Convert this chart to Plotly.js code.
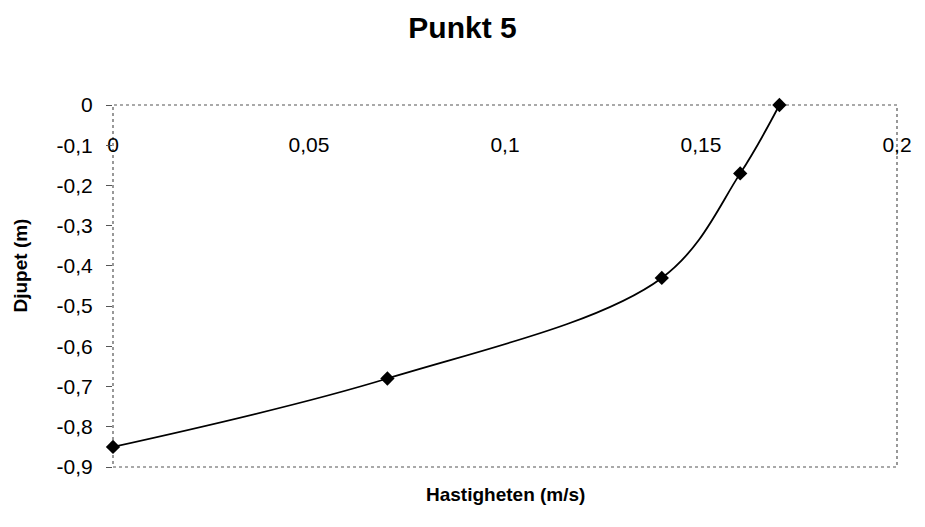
<!DOCTYPE html>
<html>
<head>
<meta charset="utf-8">
<script src="https://cdn.plot.ly/plotly-3.0.1.min.js"></script>
<style>
  html, body { margin: 0; padding: 0; background: #fff; }
  #chart { width: 925px; height: 527px; }
</style>
</head>
<body>
<div id="chart"></div>
<script>
// Velocity profile, measuring point 5
const velocity = [0.17, 0.16, 0.14, 0.07, 0];      // m/s
const depth = [0, -0.17, -0.43, -0.68, -0.85];     // m

const xTickVals = [0, 0.05, 0.1, 0.15, 0.2];
const xTickText = ['0', '0,05', '0,1', '0,15', '0,2'];
const yTickVals = [0, -0.1, -0.2, -0.3, -0.4, -0.5, -0.6, -0.7, -0.8, -0.9];
const yTickText = ['0', '-0,1', '-0,2', '-0,3', '-0,4', '-0,5', '-0,6', '-0,7', '-0,8', '-0,9'];

const chartTitle = 'Punkt 5';
const xTitle = 'Hastigheten (m/s)';
const yTitle = 'Djupet (m)';

const FONT = 'Liberation Sans, Arial, sans-serif';

const trace = {
  x: velocity,
  y: depth,
  type: 'scatter',
  mode: 'lines+markers',
  cliponaxis: false,
  line: { shape: 'spline', smoothing: 1, color: '#000', width: 1.8 },
  marker: { symbol: 'diamond', size: 11, color: '#000' },
  hoverinfo: 'x+y'
};

const layout = {
  width: 925,
  height: 527,
  margin: { l: 113, r: 28, t: 105, b: 60 },
  paper_bgcolor: '#fff',
  plot_bgcolor: '#fff',
  showlegend: false,
  font: { family: FONT, color: '#000', size: 21 },
  title: {
    text: '<b>' + chartTitle + '</b>',
    font: { family: FONT, size: 30, color: '#000' },
    x: 0.5, xref: 'container', xanchor: 'center',
    y: 1 - 27 / 527, yref: 'container', yanchor: 'middle'
  },
  xaxis: {
    range: [0, 0.2],
    tickvals: xTickVals,
    ticktext: xTickText,
    anchor: 'free',
    position: 0.93,
    side: 'bottom',
    ticks: '',
    showline: false,
    showgrid: false,
    zeroline: false,
    fixedrange: true,
    tickfont: { family: FONT, size: 21, color: '#000' }
  },
  yaxis: {
    range: [-0.9, 0],
    tickvals: yTickVals,
    ticktext: yTickText,
    ticks: 'outside',
    ticklen: 6,
    tickwidth: 1,
    tickcolor: '#555',
    ticklabelstandoff: 9,
    showline: false,
    showgrid: false,
    zeroline: false,
    fixedrange: true,
    tickfont: { family: FONT, size: 21, color: '#000' }
  },
  shapes: [{
    type: 'rect', xref: 'paper', yref: 'paper',
    x0: 0, x1: 1, y0: 0, y1: 1,
    line: { color: '#555', width: 1.2, dash: 'dot' },
    layer: 'below'
  }],
  annotations: [
    {
      text: '<b>' + xTitle + '</b>',
      xref: 'paper', yref: 'paper',
      x: 0.5, y: -0.077, xanchor: 'center', yanchor: 'middle',
      showarrow: false,
      font: { family: FONT, size: 19, color: '#000' }
    },
    {
      text: '<b>' + yTitle + '</b>',
      xref: 'paper', yref: 'paper',
      x: -0.118, y: 0.558, xanchor: 'center', yanchor: 'middle',
      textangle: -90,
      showarrow: false,
      font: { family: FONT, size: 19, color: '#000' }
    }
  ]
};

Plotly.newPlot('chart', [trace], layout, { displayModeBar: false, staticPlot: true });
</script>
</body>
</html>
